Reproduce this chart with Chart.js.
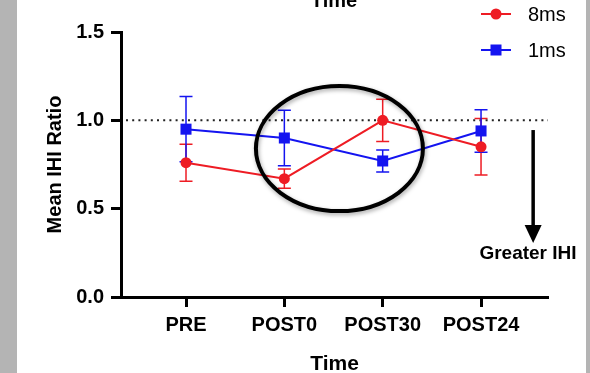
<!DOCTYPE html>
<html>
<head>
<meta charset="utf-8">
<script src="https://cdn.jsdelivr.net/npm/chart.js@4.4.1/dist/chart.umd.min.js"></script>
<style>
  html, body { margin: 0; padding: 0; background: #fff; overflow: hidden; }
  #wrap { width: 590px; height: 373px; }
</style>
</head>
<body>
<div id="wrap"><canvas id="c" width="590" height="373"></canvas></div>
<script>
// values
const categories = ["PRE", "POST0", "POST30", "POST24"];
const seriesLabels = ["8ms", "1ms"];
const ms8Mean = [0.76, 0.67, 1.00, 0.85];
const ms8Sem = [0.105, 0.054, 0.12, 0.16];
const ms1Mean = [0.95, 0.90, 0.77, 0.94];
const ms1Sem = [0.185, 0.157, 0.062, 0.12];
const yTicks = [0, 0.5, 1.0, 1.5];

const RED = "#ee1c24";
const BLUE = "#1414f0";
const FONT = "'Liberation Sans', Arial, sans-serif";

const errs = [ms8Sem, ms1Sem];

// background, gray page edges, reference line, error bars, annotations
const extras = {
  id: "extras",
  beforeDraw(chart) {
    const ctx = chart.ctx;
    ctx.save();
    ctx.fillStyle = "#fff";
    ctx.fillRect(0, 0, chart.width, chart.height);
    ctx.fillStyle = "#b4b4b4";
    ctx.fillRect(0, 0, 17, chart.height);
    ctx.fillRect(586, 0, 4, chart.height);
    ctx.restore();
  },
  beforeDatasetsDraw(chart) {
    const ctx = chart.ctx;
    const xs = chart.scales.x, ys = chart.scales.y;
    ctx.save();
    // dotted line at 1.0
    ctx.strokeStyle = "#222";
    ctx.lineWidth = 2;
    ctx.setLineDash([2, 4.2]);
    const y1 = ys.getPixelForValue(1);
    ctx.beginPath();
    ctx.moveTo(xs.left + 5, y1);
    ctx.lineTo(xs.right, y1);
    ctx.stroke();
    ctx.setLineDash([]);
    // error bars
    chart.data.datasets.forEach((ds, di) => {
      ctx.strokeStyle = ds.borderColor;
      ctx.lineWidth = 1.5;
      ds.data.forEach((p, i) => {
        const x = xs.getPixelForValue(p.x);
        const top = ys.getPixelForValue(p.y + errs[di][i]);
        const bot = ys.getPixelForValue(p.y - errs[di][i]);
        ctx.beginPath();
        ctx.moveTo(x, top); ctx.lineTo(x, bot);
        ctx.moveTo(x - 6.5, top); ctx.lineTo(x + 6.5, top);
        ctx.moveTo(x - 6.5, bot); ctx.lineTo(x + 6.5, bot);
        ctx.stroke();
      });
    });
    ctx.restore();
  },
  afterDraw(chart) {
    const ctx = chart.ctx;
    const xs = chart.scales.x, ys = chart.scales.y;
    ctx.save();

    // circle highlight
    const cx = xs.getPixelForValue(1.56), cy = ys.getPixelForValue(0.84);
    ctx.shadowColor = "rgba(0,0,0,0.35)";
    ctx.shadowBlur = 4;
    ctx.shadowOffsetX = 1;
    ctx.shadowOffsetY = 2;
    ctx.strokeStyle = "#000";
    ctx.lineWidth = 4;
    ctx.beginPath();
    ctx.ellipse(cx, cy, 83.5, 62.5, 0, 0, Math.PI * 2);
    ctx.stroke();
    ctx.shadowColor = "transparent";

    // arrow
    const ax = xs.getPixelForValue(3.53);
    const aTop = ys.getPixelForValue(0.945), aTip = ys.getPixelForValue(0.306);
    ctx.lineWidth = 3.5;
    ctx.beginPath();
    ctx.moveTo(ax, aTop); ctx.lineTo(ax, aTip - 14);
    ctx.stroke();
    ctx.fillStyle = "#000";
    ctx.beginPath();
    ctx.moveTo(ax - 8.5, aTip - 18);
    ctx.lineTo(ax + 8.5, aTip - 18);
    ctx.lineTo(ax, aTip);
    ctx.closePath();
    ctx.fill();

    ctx.font = "bold 19px " + FONT;
    ctx.textAlign = "center";
    ctx.textBaseline = "middle";
    ctx.fillText("Greater IHI", 528, 254);

    // cut-off title at the very top
    ctx.font = "bold 20px " + FONT;
    ctx.textBaseline = "alphabetic";
    ctx.fillText("Time", 334, 7);

    // legend
    const rows = [14, 50];
    chart.data.datasets.forEach((ds, di) => {
      const y = rows[di];
      ctx.strokeStyle = ds.borderColor;
      ctx.fillStyle = ds.borderColor;
      ctx.lineWidth = 2;
      ctx.beginPath();
      ctx.moveTo(481, y); ctx.lineTo(511, y);
      ctx.stroke();
      if (ds.pointStyle === "rect") {
        ctx.fillRect(496 - 5.5, y - 5.5, 11, 11);
      } else {
        ctx.beginPath();
        ctx.arc(496, y, 5.5, 0, Math.PI * 2);
        ctx.fill();
      }
      ctx.fillStyle = "#000";
      ctx.font = "20px " + FONT;
      ctx.textAlign = "left";
      ctx.textBaseline = "middle";
      ctx.fillText(ds.label, 528, y + 1);
    });
    ctx.restore();
  }
};

const toPoints = (arr) => arr.map((v, i) => ({ x: i, y: v }));

new Chart(document.getElementById("c"), {
  type: "line",
  data: {
    datasets: [
      {
        label: seriesLabels[0],
        data: toPoints(ms8Mean),
        borderColor: RED,
        backgroundColor: RED,
        borderWidth: 2,
        pointStyle: "circle",
        pointRadius: 5.5,
        pointBorderWidth: 0,
        tension: 0
      },
      {
        label: seriesLabels[1],
        data: toPoints(ms1Mean),
        borderColor: BLUE,
        backgroundColor: BLUE,
        borderWidth: 2,
        pointStyle: "rect",
        pointRadius: 7.8,
        pointBorderWidth: 0,
        tension: 0
      }
    ]
  },
  options: {
    responsive: false,
    animation: false,
    devicePixelRatio: 1,
    layout: { padding: { left: 0, top: 32, right: 42, bottom: 0 } },
    plugins: {
      legend: { display: false },
      tooltip: { enabled: false }
    },
    scales: {
      x: {
        type: "linear",
        min: -0.661,
        max: 3.681,
        afterBuildTicks: (s) => { s.ticks = categories.map((c, i) => ({ value: i })); },
        afterFit: (s) => { s.height = 76; },
        border: { display: true, color: "#000", width: 3 },
        grid: { drawOnChartArea: false, drawTicks: true, tickLength: 10, tickWidth: 3, tickColor: "#000" },
        ticks: {
          autoSkip: false,
          maxRotation: 0,
          padding: 6,
          color: "#000",
          font: { family: FONT, size: 20, weight: "bold" },
          callback: (v) => categories[v]
        },
        title: {
          display: true,
          text: "Time",
          color: "#000",
          font: { family: FONT, size: 21, weight: "bold", lineHeight: 1 },
          padding: { top: 0, bottom: -2 }
        }
      },
      y: {
        min: 0,
        max: 1.5,
        afterBuildTicks: (s) => { s.ticks = yTicks.map((v) => ({ value: v })); },
        afterFit: (s) => { s.width = 121; },
        border: { display: true, color: "#000", width: 3 },
        grid: { drawOnChartArea: false, drawTicks: true, tickLength: 10, tickWidth: 3, tickColor: "#000" },
        ticks: {
          padding: 7,
          color: "#000",
          font: { family: FONT, size: 20, weight: "bold" },
          callback: (v) => v.toFixed(1)
        },
        title: {
          display: true,
          text: "Mean IHI Ratio",
          color: "#000",
          font: { family: FONT, size: 20, weight: "bold", lineHeight: 1.2 },
          padding: { top: 43, bottom: 0 }
        }
      }
    }
  },
  plugins: [extras]
});
</script>
</body>
</html>
